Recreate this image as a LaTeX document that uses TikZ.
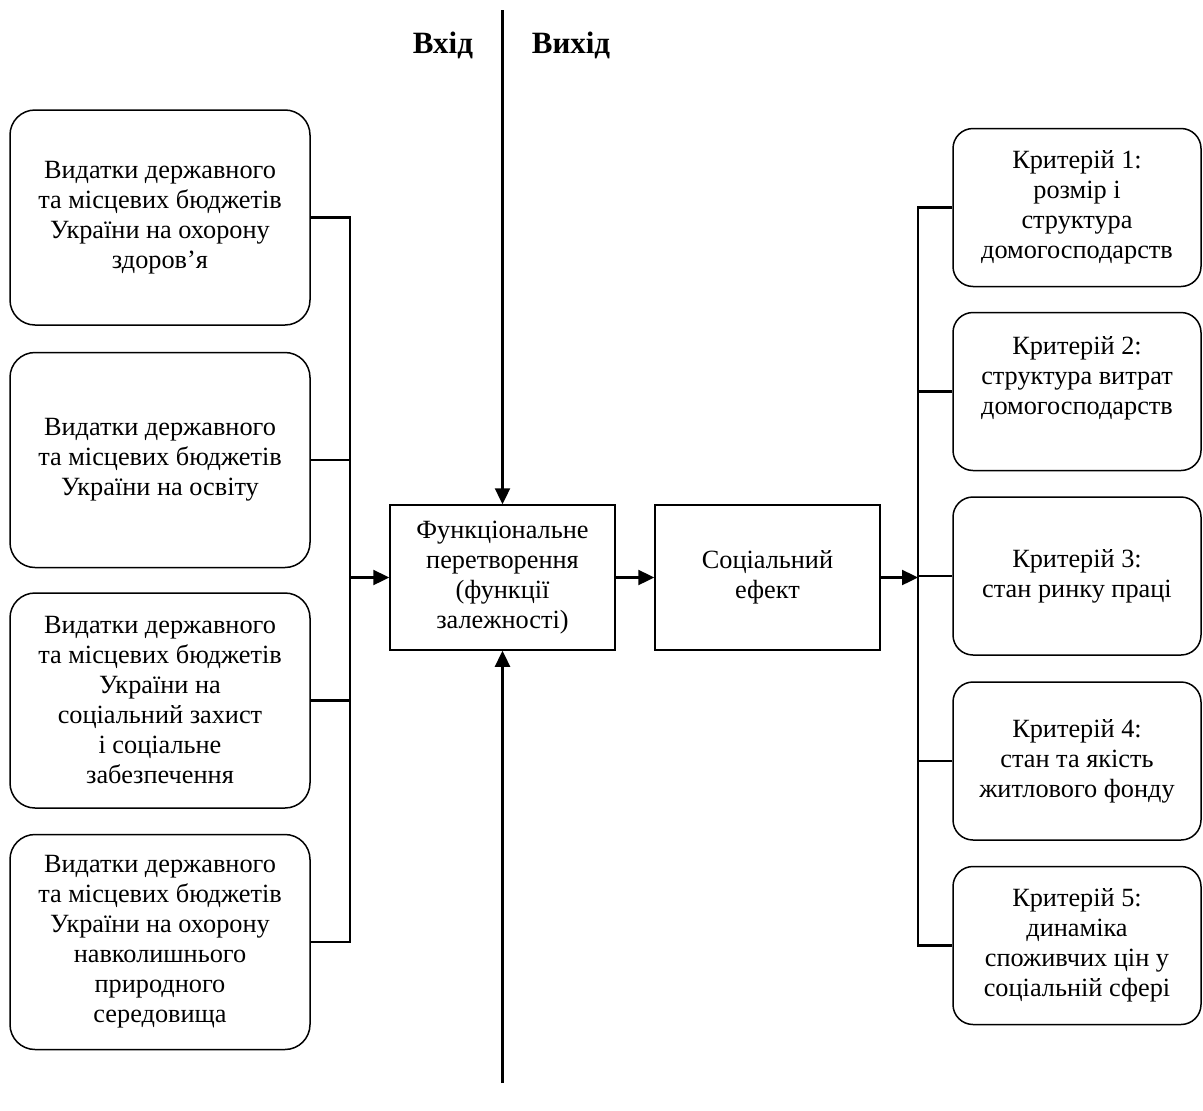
\documentclass[tikz,border=0pt]{standalone}
\usepackage{fontspec}
\setmainfont{Liberation Serif}
\usepackage{tikz}
\usetikzlibrary{arrows.meta}

\begin{document}
\begin{tikzpicture}[x=1pt, y=-1pt,
    txt/.style={font=\fontsize{26.3}{30}\selectfont, align=center, inner sep=0pt},
    srcbox/.style={txt, draw, line width=1.5pt, rounded corners=25pt, minimum width=300pt, minimum height=215pt},
    critbox/.style={txt, draw, line width=1.5pt, rounded corners=20pt, minimum width=248pt, minimum height=158pt},
    midbox/.style={txt, draw, line width=1.5pt, minimum width=225pt, minimum height=145pt},
    wire/.style={line width=2.4pt},
    arr/.style={wire, -{Triangle[length=16pt, width=15pt]}}]
      \useasboundingbox (0, 0) rectangle (1203, 1111);

      \node[txt, font=\fontsize{31}{34}\selectfont\bfseries](In) at (443, 45) {Вхід};
      \node[txt, font=\fontsize{31}{34}\selectfont\bfseries](Out) at (571, 45) {Вихід};

        \node[srcbox](Src1) at (160, 217.5) {Видатки державного\\та місцевих бюджетів\\України на охорону\\здоров’я};
        \node[srcbox](Src2) at (160, 460) {Видатки державного\\та місцевих бюджетів\\України на освіту};
        \node[srcbox](Src3) at (160, 700.5) {Видатки державного\\та місцевих бюджетів\\України на\\соціальний захист\\і соціальне\\забезпечення};
        \node[srcbox](Src4) at (160, 942) {Видатки державного\\та місцевих бюджетів\\України на охорону\\навколишнього\\природного\\середовища};

      \node[midbox](Func) at (502.5, 577.5) {Функціональне\\перетворення\\(функції\\залежності)};
      \node[midbox](Effect) at (767.5, 577.5) {Соціальний\\ефект};

        \node[critbox](Crit1) at (1077, 207.5) {Критерій 1:\\розмір і\\структура\\домогосподарств};
        \node[critbox](Crit2) at (1077, 391.5) {Критерій 2:\\структура витрат\\домогосподарств\\[2pt]\mbox{}};
        \node[critbox](Crit3) at (1077, 576) {Критерій 3:\\стан ринку праці};
        \node[critbox](Crit4) at (1077, 761) {Критерій 4:\\стан та якість\\житлового фонду};
        \node[critbox](Crit5) at (1077, 945.5) {Критерій 5:\\динаміка\\споживчих цін у\\соціальній сфері};

      \coordinate(Top) at (502.5, 10);
      \coordinate(Bottom) at (502.5, 1083);
      \coordinate(LBus) at (350, 577.5);
      \coordinate(RBus) at (918, 577.5);

      \draw[wire] (Src1.east) -- (Src1.east -| LBus) -- (Src4.east -| LBus) -- (Src4.east)
                  (Src2.east) -- (Src2.east -| LBus)
                  (Src3.east) -- (Src3.east -| LBus);
      \draw[wire] (Crit1.west) -- (Crit1.west -| RBus) -- (Crit5.west -| RBus) -- (Crit5.west)
                  (Crit2.west) -- (Crit2.west -| RBus)
                  (Crit3.west) -- (Crit3.west -| RBus)
                  (Crit4.west) -- (Crit4.west -| RBus);
      \draw[arr] (LBus) -- (Func.west);
      \draw[arr] (Func.east) -- (Effect.west);
      \draw[arr] (Effect.east) -- (RBus);
      \draw[arr] (Top) -- (Func.north);
      \draw[arr] (Bottom) -- (Func.south);
\end{tikzpicture}
\end{document}
